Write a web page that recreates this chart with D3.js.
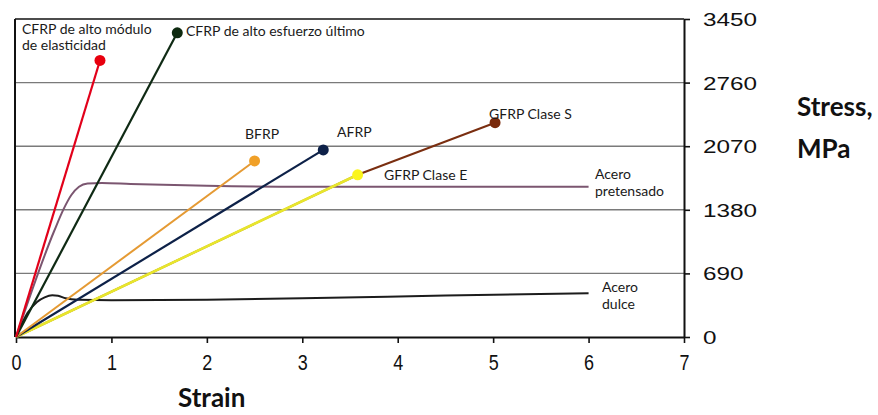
<!DOCTYPE html>
<html>
<head>
<meta charset="utf-8">
<script src="https://cdn.jsdelivr.net/npm/d3@7/dist/d3.min.js"></script>
<style>
  html, body { margin: 0; padding: 0; background: #fff; }
  svg { display: block; }
</style>
</head>
<body>
<svg id="chart" width="878" height="415"></svg>
<script>
// Axis ticks
const strainTicks = [0, 1, 2, 3, 4, 5, 6, 7];
const stressTicks = [0, 690, 1380, 2070, 2760, 3450];
const gridStress = [690, 1380, 2070, 2760];

// Linear-elastic FRP materials: rupture point [strain, stress]
const frpNames = ["CFRP de alto módulo", "CFRP de alto esfuerzo último", "BFRP", "AFRP", "GFRP Clase E"];
const frpStrain = [0.88, 1.69, 2.50, 3.22, 3.58];
const frpStress = [3000, 3300, 1910, 2030, 1760];

// GFRP Clase S (continues past the Clase E rupture point)
const gfrpSStrain = [0, 3.58, 5.02];
const gfrpSStress = [0, 1760, 2325];

// Prestressing steel
const pretStrain = [0, 0.40, 0.50, 0.58, 0.66, 0.75, 0.9, 1.2, 2.0, 3.0, 4.5, 6.0];
const pretStress = [0, 1150, 1390, 1540, 1630, 1665, 1670, 1660, 1640, 1630, 1630, 1630];

// Mild steel
const dulceStrain = [0, 0.12, 0.22, 0.30, 0.38, 0.44, 0.52, 0.65, 1.0, 2.0, 3.0, 4.5, 6.0];
const dulceStress = [0, 260, 380, 430, 452, 448, 420, 405, 400, 405, 420, 450, 475];

const svg = d3.select("#chart");
const x = d3.scaleLinear().domain([0, 7]).range([16, 684]);
const y = d3.scaleLinear().domain([0, 3450]).range([337, 19]);

// Grid lines
svg.append("g").selectAll("line").data(gridStress).join("line")
  .attr("x1", x(0) - 1).attr("x2", x(7))
  .attr("y1", d => y(d)).attr("y2", d => y(d))
  .attr("stroke", "#7a7a7a").attr("stroke-width", 1.4);

// Frame: left and top edges
svg.append("line").attr("x1", x(0) - 1).attr("x2", x(0) - 1).attr("y1", y(3450)).attr("y2", y(0))
  .attr("stroke", "#111").attr("stroke-width", 2);
svg.append("line").attr("x1", x(0) - 1).attr("x2", x(7)).attr("y1", y(3450)).attr("y2", y(3450))
  .attr("stroke", "#111").attr("stroke-width", 1.6);

// Bottom axis
const xAxis = svg.append("g").attr("transform", `translate(0,${y(0)})`)
  .call(d3.axisBottom(x).tickValues(strainTicks).tickSize(6).tickSizeOuter(0).tickFormat(d3.format("d")));
xAxis.select(".domain").attr("stroke", "#111").attr("stroke-width", 2.2);
xAxis.selectAll(".tick line").attr("stroke", "#111").attr("stroke-width", 1.6);
xAxis.selectAll(".tick text")
  .attr("y", 17)
  .attr("font-family", "Liberation Sans, Arial, sans-serif")
  .attr("font-size", 22).attr("fill", "#111")
  .attr("textLength", 10).attr("lengthAdjust", "spacingAndGlyphs");

// Right axis
const yAxis = svg.append("g").attr("transform", `translate(${x(7)},0)`)
  .call(d3.axisRight(y).tickValues(stressTicks).tickSize(6).tickSizeOuter(0).tickFormat(d3.format("d")));
yAxis.select(".domain").attr("stroke", "#111").attr("stroke-width", 2);
yAxis.selectAll(".tick line").attr("stroke", "#111").attr("stroke-width", 1.6);
yAxis.selectAll(".tick text")
  .attr("x", 19).attr("dy", "0.36em")
  .attr("font-family", "Liberation Sans, Arial, sans-serif")
  .attr("font-size", 18).attr("fill", "#111")
  .attr("textLength", d => String(d).length * 13.5).attr("lengthAdjust", "spacingAndGlyphs");

const line = d3.line().x(d => x(d[0])).y(d => y(d[1]));
const smooth = d3.line().x(d => x(d[0])).y(d => y(d[1])).curve(d3.curveMonotoneX);

const g = svg.append("g").attr("fill", "none").attr("stroke-linejoin", "round");

// Prestressing steel
g.append("path").attr("d", smooth(pretStrain.map((s, i) => [s, pretStress[i]])))
  .attr("stroke", "#7b5670").attr("stroke-width", 2);

// Mild steel
g.append("path").attr("d", smooth(dulceStrain.map((s, i) => [s, dulceStress[i]])))
  .attr("stroke", "#1c1c1c").attr("stroke-width", 2);

// GFRP Clase S
g.append("path").attr("d", line(gfrpSStrain.map((s, i) => [s, gfrpSStress[i]])))
  .attr("stroke", "#7a2e10").attr("stroke-width", 2);

// FRP straight lines, drawn back to front
const frpColors = ["#e2001a", "#0f2a14", "#e59a33", "#0d2148", "#e8e62c"];
const frpWidths = [2.2, 2.2, 2, 2.2, 2.6];
const order = [4, 3, 2, 1, 0];
order.forEach(i => {
  g.append("path").attr("d", line([[0, 0], [frpStrain[i], frpStress[i]]]))
    .attr("stroke", frpColors[i]).attr("stroke-width", frpWidths[i]);
});

// Rupture markers
const dotColors = ["#e8000e", "#0e2a10", "#f0a028", "#0d2148", "#fbf51c"];
const dots = svg.append("g");
frpStrain.forEach((s, i) => {
  dots.append("circle").attr("cx", x(s)).attr("cy", y(frpStress[i])).attr("r", 5.5)
    .attr("fill", dotColors[i]);
});
dots.append("circle").attr("cx", x(gfrpSStrain[2])).attr("cy", y(gfrpSStress[2])).attr("r", 5.5)
  .attr("fill", "#7a2a0c");

// Series labels
const labelFont = "Lato, 'Open Sans', sans-serif";
const labels = [
  ["CFRP de alto módulo", 22, 34],
  ["de elasticidad", 22, 50],
  ["CFRP de alto esfuerzo último", 186, 36],
  ["BFRP", 245, 139],
  ["AFRP", 337, 137],
  ["GFRP Clase S", 489, 119],
  ["GFRP Clase E", 384, 180],
  ["Acero", 595, 179],
  ["pretensado", 595, 196],
  ["Acero", 602, 292],
  ["dulce", 602, 309]
];
svg.append("g").selectAll("text").data(labels).join("text")
  .attr("x", d => d[1]).attr("y", d => d[2])
  .attr("font-family", labelFont).attr("font-size", 14).attr("fill", "#1a1a1a")
  .text(d => d[0]);

// Axis titles
const titleFont = "Lato, 'Open Sans', sans-serif";
svg.append("text").attr("x", 797).attr("y", 116).attr("font-family", titleFont)
  .attr("font-weight", "bold").attr("font-size", 26).attr("fill", "#111").text("Stress,");
svg.append("text").attr("x", 797).attr("y", 158).attr("font-family", titleFont)
  .attr("font-weight", "bold").attr("font-size", 26).attr("fill", "#111").text("MPa");
svg.append("text").attr("x", 178).attr("y", 407).attr("font-family", titleFont)
  .attr("font-weight", "bold").attr("font-size", 26).attr("fill", "#111").text("Strain");
</script>
</body>
</html>
